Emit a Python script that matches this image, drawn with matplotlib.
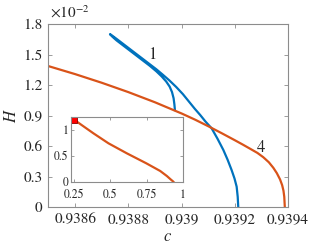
import matplotlib
matplotlib.use("Agg")
import matplotlib.pyplot as plt

plt.rcParams['font.family'] = ['STIXGeneral', 'DejaVu Sans']
plt.rcParams['mathtext.fontset'] = 'stix'

# Curve "1" (blue): short branch from its lower end up to the tip,
# then the long branch down to H = 0
c1 = [0.938975, 0.938973, 0.938970, 0.938964, 0.938955, 0.938942, 0.938925,
      0.938905, 0.938880, 0.938855, 0.938830, 0.938805, 0.938780, 0.938755,
      0.938738, 0.938731,
      0.938738, 0.938755, 0.938780, 0.938805, 0.938830, 0.938855, 0.938880,
      0.938905, 0.938930, 0.938955, 0.938980, 0.939005, 0.939032, 0.939050,
      0.939070, 0.939090, 0.939113, 0.939135, 0.939157, 0.939173, 0.939188,
      0.939199, 0.939207, 0.939211, 0.939213]
H1 = [0.954, 1.010, 1.070, 1.131, 1.185, 1.235, 1.285,
      1.335, 1.390, 1.440, 1.490, 1.540, 1.590, 1.640,
      1.680, 1.700,
      1.688, 1.655, 1.605, 1.555, 1.505, 1.455, 1.405,
      1.355, 1.300, 1.243, 1.180, 1.110, 1.023, 0.965,
      0.905, 0.840, 0.774, 0.672, 0.561, 0.465, 0.364,
      0.280, 0.200, 0.100, 0.000]

# Curve "4" (orange)
c4 = [0.938498, 0.938600, 0.938700, 0.938800, 0.938900, 0.939000, 0.939050,
      0.939100, 0.939150, 0.939200, 0.939230, 0.939257, 0.939285, 0.939307,
      0.939328, 0.939345, 0.939358, 0.939370, 0.939378, 0.939383, 0.939386,
      0.939388]
H4 = [1.387, 1.307, 1.222, 1.130, 1.030, 0.920, 0.860,
      0.795, 0.727, 0.657, 0.614, 0.574, 0.532, 0.490,
      0.440, 0.385, 0.333, 0.272, 0.215, 0.160, 0.100,
      0.000]

# Inset curve
xi = [0.25, 0.30, 0.383, 0.487, 0.613, 0.747, 0.843, 0.889, 0.915, 0.930, 0.935]
yi = [1.20, 1.10, 0.937, 0.744, 0.552, 0.360, 0.212, 0.115, 0.050, 0.015, 0.0]
marker_pt = (0.25, 1.2)

xticks = [0.9386, 0.9388, 0.939, 0.9392, 0.9394]
xticklabels = ['0.9386', '0.9388', '0.939', '0.9392', '0.9394']
yticks = [0, 0.3, 0.6, 0.9, 1.2, 1.5, 1.8]
yticklabels = ['0', '0.3', '0.6', '0.9', '1.2', '1.5', '1.8']
ixticks = [0.25, 0.5, 0.75, 1.0]
ixticklabels = ['0.25', '0.5', '0.75', '1']
iyticks = [0, 0.5, 1]
iyticklabels = ['0', '0.5', '1']

blue = '#0072BD'
orange = '#D95319'
spine_c = '#8c8c8c'
text_c = '#262626'

fig = plt.figure(figsize=(3.19, 2.52), dpi=100)
ax = fig.add_axes([48/319, 45/252, 240/319, 183/252])
ax.plot(c1, H1, color=blue, lw=1.6, solid_joinstyle='round')
ax.plot(c4, H4, color=orange, lw=1.6, solid_joinstyle='round')
ax.set_xlim(0.938498, 0.9394)
ax.set_ylim(0, 1.8)
ax.set_xticks(xticks)
ax.set_xticklabels(xticklabels)
ax.set_yticks(yticks)
ax.set_yticklabels(yticklabels)
ax.tick_params(direction='in', length=3, width=0.6, colors=spine_c,
               labelcolor=text_c, labelsize=11, top=True, right=True, pad=4)
for s in ax.spines.values():
    s.set_color(spine_c)
    s.set_linewidth(0.8)
ax.set_xlabel(r'$c$', fontsize=12, color=text_c, labelpad=2)
ax.set_ylabel(r'$H$', fontsize=12, color=text_c, labelpad=2)
ax.text(0.938889, 1.495, '1', fontsize=12, color=text_c, ha='center', va='center')
ax.text(0.939300, 0.585, '4', fontsize=12, color=text_c, ha='center', va='center')
fig.text(50/319, 1 - 12/252, r'$\times 10^{-2}$', fontsize=11, color=text_c,
         ha='left', va='center')

ins = fig.add_axes([71/319, 70/252, 112/319, 65/252])
ins.plot(xi, yi, color=orange, lw=1.6, solid_joinstyle='round')
ins.plot([marker_pt[0]], [marker_pt[1]], marker='s', ms=5, mfc='#ff0000',
         mec='#8b0000', mew=0.6, clip_on=False)
ins.set_xlim(0.229, 1.0)
ins.set_ylim(0, 1.25)
ins.set_xticks(ixticks)
ins.set_xticklabels(ixticklabels)
ins.set_yticks(iyticks)
ins.set_yticklabels(iyticklabels)
ins.tick_params(axis='both', direction='in', length=2.5, width=0.6, colors=spine_c,
                labelcolor=text_c, labelsize=8.5, top=True, right=True)
ins.tick_params(axis='x', pad=5)
ins.tick_params(axis='y', pad=2)
for s in ins.spines.values():
    s.set_color(spine_c)
    s.set_linewidth(0.8)

fig.savefig('out.png', dpi=100)
